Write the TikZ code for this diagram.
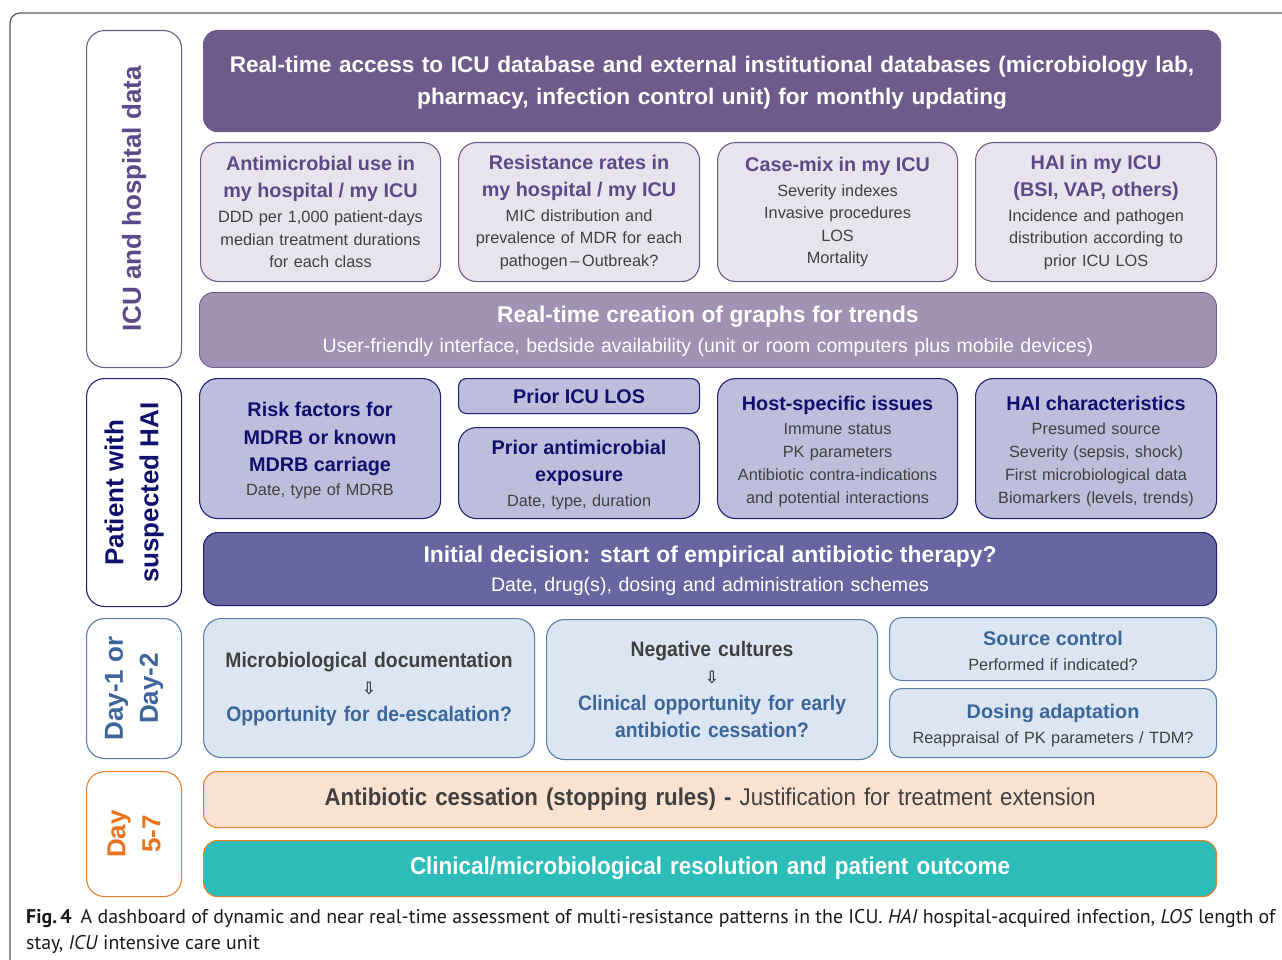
\documentclass[tikz,border=0pt]{standalone}
\usepackage{fontspec}
\setmainfont{Liberation Sans}
\newfontfamily\narrowfont{Liberation Sans}[FakeStretch=0.92]
\newfontfamily\symfont{DejaVu Sans}
\newfontfamily\capfont{PT Sans}

\definecolor{frameGray}{HTML}{555555}
\definecolor{plumDark}{HTML}{6E5B8B}
\definecolor{plumText}{HTML}{5C4987}
\definecolor{plumLight}{HTML}{E7E4ED}
\definecolor{plumMid}{HTML}{A192B4}
\definecolor{navyLine}{HTML}{1F1F75}
\definecolor{navyText}{HTML}{0F0F6E}
\definecolor{navyFill}{HTML}{BEBEDC}
\definecolor{navyMid}{HTML}{6766A0}
\definecolor{skyFill}{HTML}{DCE6F2}
\definecolor{skyLine}{HTML}{5A7DAB}
\definecolor{skyText}{HTML}{3C6699}
\definecolor{bodyGray}{HTML}{404040}
\definecolor{orangeLine}{HTML}{E8822A}
\definecolor{orangeText}{HTML}{E8731C}
\definecolor{peachFill}{HTML}{FBE2D0}
\definecolor{tealFill}{HTML}{2DBDB9}

% font helpers
\newcommand\rowtitle[1]{{\fontsize{19.8}{27}\selectfont\bfseries #1}}
\newcommand\bigtitle[1]{{\fontsize{22.8}{30}\selectfont\bfseries #1}}
\newcommand\downarrowglyph{{\symfont\bfseries\fontsize{17}{16}\selectfont ⇩}}

\begin{document}
\begin{tikzpicture}[x=1pt,y=-1pt,
  card/.style={draw, anchor=north west, inner sep=0pt, align=center,
    rounded corners=18pt, line width=1.1pt},
  plumcard/.style={card, fill=plumLight, draw=plumDark, text=bodyGray,
    text width=#1, font=\fontsize{16.3}{22.5}\selectfont},
  navycard/.style={card, fill=navyFill, draw=navyLine, text=bodyGray,
    text width=#1, font=\fontsize{16.3}{23}\selectfont},
  skycard/.style={card, fill=skyFill, draw=skyLine, text=bodyGray,
    text width=#1, font=\fontsize{16.3}{25}\selectfont},
  widebar/.style={card, rounded corners=14pt, text=white, text width=1000pt},
  sidebox/.style={draw, fill=white, anchor=north west, rounded corners=18pt,
    line width=1.1pt, minimum width=95pt},
  sidelabel/.style={rotate=90, align=center, font=\fontsize{26}{35}\selectfont\bfseries},
]
\useasboundingbox (0,0) rectangle (1282,960);

% outer frame
\draw[frameGray, line width=1.2pt, rounded corners=10pt]
  (10,990) -- (10,13) -- (1310,13);

% ---------- side labels ----------
\node[sidebox, draw=plumDark, minimum height=337pt] (sideA) at (86,30) {};
\node[sidelabel, text=plumText] (sideAtxt) at (sideA.center) {ICU and hospital data};

\node[sidebox, draw=navyLine, minimum height=228pt] (sideB) at (86,378) {};
\node[sidelabel, text=navyText] (sideBtxt) at (sideB.center) {Patient with\\suspected HAI};

\node[sidebox, draw=skyLine, minimum height=140pt] (sideC) at (86,618) {};
\node[sidelabel, text=skyText] (sideCtxt) at (sideC.center) {Day-1 or\\Day-2};

\node[sidebox, draw=orangeLine, minimum height=125pt] (sideD) at (86,771) {};
\node[sidelabel, text=orangeText] (sideDtxt) at (sideD.center) {Day\\5-7};

% ---------- ICU and hospital data ----------
\node[widebar, fill=plumDark, draw=plumDark, minimum width=1017pt, minimum height=101pt,
  font=\fontsize{22.6}{32}\selectfont\bfseries] (access) at (203,30)
  {\rule{0pt}{20pt}Real-time access to ICU database and external institutional databases (microbiology lab,\\
   pharmacy, infection control unit) for monthly updating};

\node[plumcard=232pt, minimum width=240pt, minimum height=139pt] (amu) at (200,142)
  {\textcolor{plumText}{\rowtitle{Antimicrobial use in}\\[4.5pt]\rowtitle{my hospital / my ICU}}\\[2.5pt]
   DDD per 1,000 patient-days\\ median treatment durations\\ for each class};
\node[plumcard=232pt, minimum width=241pt, minimum height=139pt] (res) at (458,142)
  {\textcolor{plumText}{\rowtitle{Resistance rates in}\\[4.5pt]\rowtitle{my hospital / my ICU}}\\[2.5pt]
   MIC distribution and\\ prevalence of MDR for each\\ pathogen\,–\,Outbreak?};
\node[plumcard=232pt, minimum width=240pt, minimum height=139pt] (mix) at (717,142)
  {\textcolor{plumText}{\rowtitle{Case-mix in my ICU}}\\[2.5pt]
   Severity indexes\\ Invasive procedures\\ LOS\\ Mortality};
\node[plumcard=232pt, minimum width=241pt, minimum height=139pt] (hai) at (975,142)
  {\textcolor{plumText}{\rowtitle{HAI in my ICU}\\[4.5pt]\rowtitle{(BSI, VAP, others)}}\\[2.5pt]
   Incidence and pathogen\\ distribution according to\\ prior ICU LOS};

\node[widebar, fill=plumMid, draw=plumDark, line width=0.9pt, minimum width=1017pt,
  minimum height=75pt, font=\fontsize{19.5}{30}\selectfont] (graphs) at (199,292)
  {\rule{0pt}{19pt}\bigtitle{Real-time creation of graphs for trends}\\
   User-friendly interface, bedside availability (unit or room computers plus mobile devices)};

% ---------- Patient with suspected HAI ----------
\node[navycard=232pt, minimum width=241pt, minimum height=140pt] (risk) at (199,378)
  {\rule{0pt}{19pt}\textcolor{navyText}{\rowtitle{Risk factors for}\\[5pt]\rowtitle{MDRB or known}\\[4pt]\rowtitle{MDRB carriage}}\\[1pt]
   Date, type of MDRB};
\node[navycard=232pt, rounded corners=8pt, minimum width=241pt, minimum height=35pt] (los) at (458,378)
  {\textcolor{navyText}{\rowtitle{Prior ICU LOS}}};
\node[navycard=232pt, minimum width=241pt, minimum height=91pt] (prior) at (458,427)
  {\rule{0pt}{19pt}\textcolor{navyText}{\rowtitle{Prior antimicrobial}\\[4pt]\rowtitle{exposure}}\\[2pt]
   Date, type, duration};
\node[navycard=232pt, minimum width=240pt, minimum height=140pt] (host) at (717,378)
  {\rule{0pt}{20pt}\textcolor{navyText}{\rowtitle{Host-specific issues}}\\[1pt]
   Immune status\\ PK parameters\\ Antibiotic contra-indications\\ and potential interactions};
\node[navycard=232pt, minimum width=241pt, minimum height=140pt] (haichar) at (975,378)
  {\rule{0pt}{20pt}\textcolor{navyText}{\rowtitle{HAI characteristics}}\\[1pt]
   Presumed source\\ Severity (sepsis, shock)\\ First microbiological data\\ Biomarkers (levels, trends)};

\node[widebar, fill=navyMid, draw=navyLine, minimum width=1013pt, minimum height=73pt,
  font=\fontsize{19.6}{29}\selectfont] (initial) at (203,532)
  {\rule{0pt}{19pt}{\fontsize{22.9}{29}\selectfont\bfseries Initial decision: start of empirical antibiotic therapy?}\\
   Date, drug(s), dosing and administration schemes};

% ---------- Day-1 or Day-2 ----------
\node[skycard=320pt, minimum width=331pt, minimum height=139pt,
  font=\fontsize{21}{27}\selectfont\narrowfont\bfseries] (micro) at (203,618)
  {\rule{0pt}{18pt}Microbiological documentation\\ \downarrowglyph\\ \textcolor{skyText}{Opportunity for de-escalation?}};
\node[skycard=320pt, minimum width=331pt, minimum height=140pt,
  font=\fontsize{21}{27}\selectfont\narrowfont\bfseries] (negcult) at (546,619)
  {Negative cultures\\ \downarrowglyph\\ \textcolor{skyText}{Clinical opportunity for early}\\
   \textcolor{skyText}{antibiotic cessation?}};
\node[skycard=318pt, rounded corners=12pt, minimum width=327pt, minimum height=63pt] (source) at (889,617)
  {\rule{0pt}{18pt}\textcolor{skyText}{\rowtitle{Source control}}\\ Performed if indicated?};
\node[skycard=318pt, rounded corners=12pt, minimum width=327pt, minimum height=69pt] (dosing) at (889,688)
  {\rule{0pt}{20pt}\textcolor{skyText}{\rowtitle{Dosing adaptation}}\\ Reappraisal of PK parameters / TDM?};

% ---------- Day 5-7 ----------
\node[widebar, fill=peachFill, draw=orangeLine, text=bodyGray, minimum width=1013pt,
  minimum height=56pt, font=\fontsize{24.2}{27}\selectfont\narrowfont] (stop) at (203,771)
  {\textbf{Antibiotic cessation (stopping rules) -} Justification for treatment extension};
\node[widebar, fill=tealFill, draw=orangeLine, minimum width=1013pt,
  minimum height=56pt, font=\fontsize{24.4}{27}\selectfont\narrowfont\bfseries] (outcome) at (203,840)
  {Clinical/microbiological resolution and patient outcome};

% ---------- caption ----------
\node[anchor=north west, inner sep=0pt, align=left, text=black!90,
  font=\capfont\fontsize{19.85}{26}\selectfont] (caption) at (26,909)
  {\textbf{Fig.\,4}\hspace{9pt}A dashboard of dynamic and near real-time assessment of multi-resistance patterns in the ICU. \textit{HAI} hospital-acquired infection, \textit{LOS} length of\\
   stay, \textit{ICU} intensive care unit};
\end{tikzpicture}
\end{document}
